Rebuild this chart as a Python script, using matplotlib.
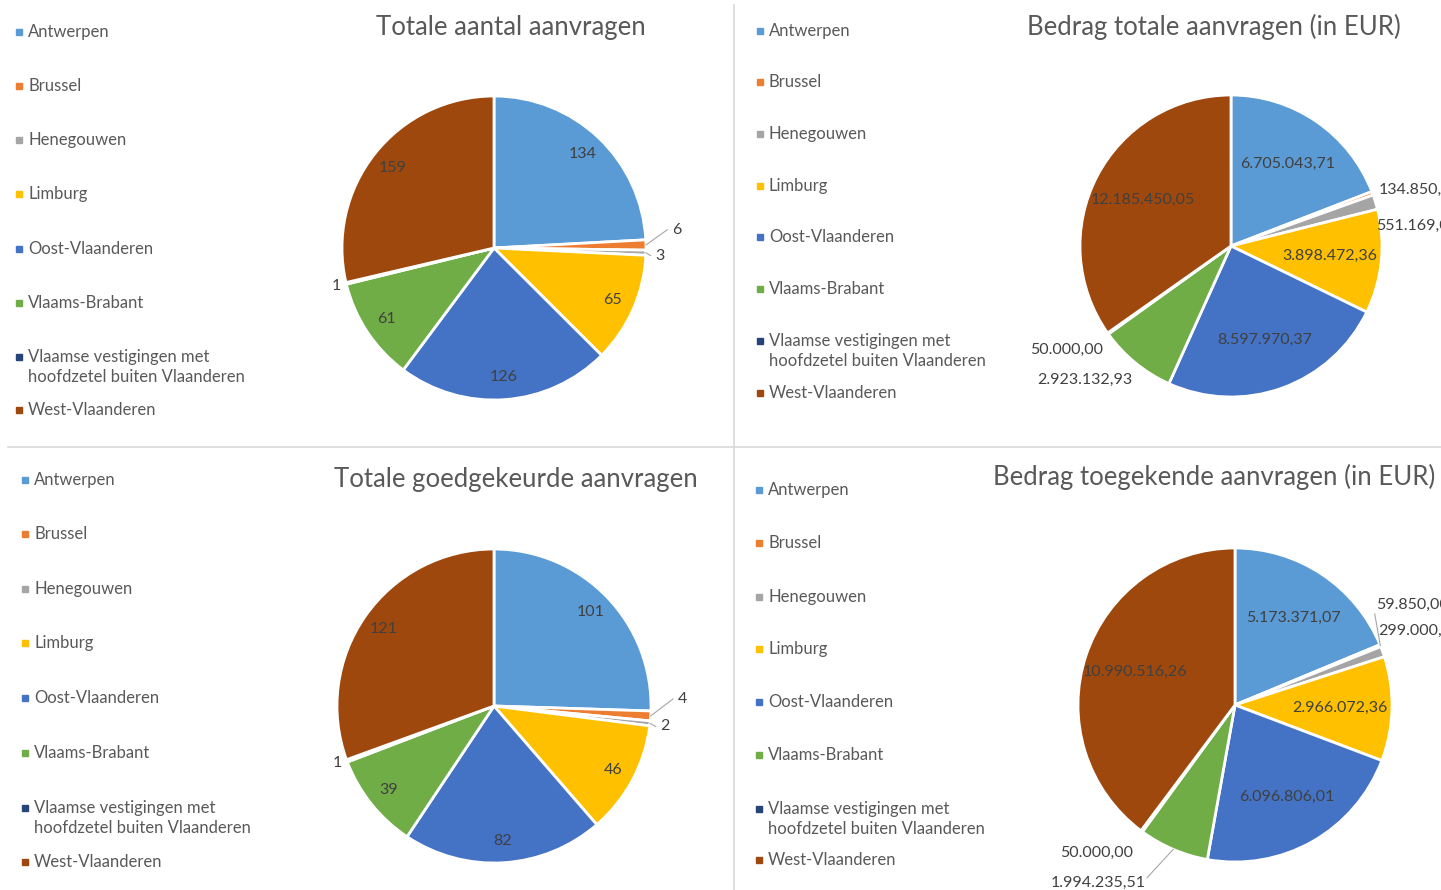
import numpy as np
import matplotlib
matplotlib.use("Agg")
from matplotlib import pyplot as plt
from matplotlib.patches import Rectangle
from matplotlib.lines import Line2D

W, H = 1441, 890

regions = ["Antwerpen", "Brussel", "Henegouwen", "Limburg", "Oost-Vlaanderen",
           "Vlaams-Brabant", "Vlaamse vestigingen met\nhoofdzetel buiten Vlaanderen",
           "West-Vlaanderen"]
colors = ["#5B9BD5", "#ED7D31", "#A5A5A5", "#FFC000", "#4472C4", "#70AD47", "#264478", "#9E480E"]

aantal_totaal = [134, 6, 3, 65, 126, 61, 1, 159]
bedrag_totaal = [6705043.71, 134850.00, 551169.00, 3898472.36, 8597970.37, 2923132.93, 50000.00, 12185450.05]
aantal_goedgekeurd = [101, 4, 2, 46, 82, 39, 1, 121]
bedrag_toegekend = [5173371.07, 59850.00, 299000.00, 2966072.36, 6096806.01, 1994235.51, 50000.00, 10990516.26]

titles = ["Totale aantal aanvragen", "Bedrag totale aanvragen (in EUR)",
          "Totale goedgekeurde aanvragen", "Bedrag toegekende aanvragen (in EUR)"]

plt.rcParams['font.family'] = ['Lato', 'DejaVu Sans']

TXT = "#595959"
LBL = "#404040"


def eur(v):
    s = f"{v:,.2f}"
    return s.replace(",", "#").replace(".", ",").replace("#", ".")


def fx(x):
    return x / W


def fy(y):
    return 1 - y / H


fig = plt.figure(figsize=(W / 100, H / 100), dpi=100)

# separators
fig.add_artist(Line2D([fx(734), fx(734)], [fy(5), fy(890)], color="#d9d9d9", lw=1.2))
fig.add_artist(Line2D([fx(8), fx(1441)], [fy(447), fy(447)], color="#d9d9d9", lw=1.2))

# panel layout: pie centre/radius (px), title pos, legend x and y's, inside label radius,
# outside labels: index -> (x, y, ha, leader end or None) in pie radius units
panels = [
    dict(vals=aantal_totaal, fmt=str, c=(494, 248), r=152, t=(511, 28), lx=19,
         ly=[32, 86, 140, 194, 249, 303, 367, 410], rin=0.85,
         out={1: (1.20, 0.12, 'center', (1.14, 0.12)), 2: (1.09, -0.05, 'center', (1.03, -0.05)),
              6: (-1.04, -0.25, 'center', None)}),
    dict(vals=bedrag_totaal, fmt=eur, c=(1231, 246), r=151, t=(1214, 27), lx=760,
         ly=[31, 82, 134, 186, 237, 289, 351, 393], rin=0.66,
         out={1: (0.975, 0.37, 'left', None), 2: (0.96, 0.13, 'left', None),
              6: (-1.09, -0.69, 'center', None), 5: (-0.97, -0.89, 'center', None)}),
    dict(vals=aantal_goedgekeurd, fmt=str, c=(494, 706), r=157, t=(516, 479), lx=25,
         ly=[480, 534, 589, 643, 698, 753, 818, 862], rin=0.86,
         out={1: (1.20, 0.045, 'center', (1.14, 0.045)), 2: (1.09, -0.13, 'center', (1.03, -0.13)),
              6: (-1.0, -0.36, 'center', None)}),
    dict(vals=bedrag_toegekend, fmt=eur, c=(1235, 705), r=157, t=(1214, 477), lx=759,
         ly=[490, 543, 597, 649, 702, 755, 819, 860], rin=0.67,
         out={1: (0.90, 0.64, 'left', (0.89, 0.58)), 2: (0.91, 0.47, 'left', None),
              6: (-0.88, -0.94, 'center', None), 5: (-0.87, -1.13, 'center', (-0.56, -1.10))}),
]

for p, title in zip(panels, titles):
    cx, cy = p['c']
    r = p['r']
    ax = fig.add_axes([fx(cx - r), fy(cy + r), fx(2 * r), 2 * r / H])
    vals = np.array(p['vals'], dtype=float)
    wedges, _ = ax.pie(vals, colors=colors, startangle=90, counterclock=False, radius=1,
                       wedgeprops=dict(edgecolor="white", linewidth=2))
    ax.set_xlim(-1, 1)
    ax.set_ylim(-1, 1)
    ax.set_aspect('auto')
    ax.axis('off')

    for i, (w, v) in enumerate(zip(wedges, vals)):
        txt = p['fmt'](int(v)) if p['fmt'] is str else p['fmt'](v)
        ang = np.deg2rad((w.theta1 + w.theta2) / 2)
        if i in p['out']:
            tx, ty, ha, lead = p['out'][i]
            ax.text(tx, ty, txt, ha=ha, va='center', fontsize=11.5, color=LBL, clip_on=False)
            if lead is not None:
                ax.plot([np.cos(ang), lead[0]], [np.sin(ang), lead[1]],
                        color="#a6a6a6", lw=0.8, clip_on=False)
        else:
            rr = p['rin']
            ax.text(rr * np.cos(ang), rr * np.sin(ang), txt, ha='center', va='center',
                    fontsize=11.5, color=LBL)

    fig.text(fx(p['t'][0]), fy(p['t'][1]), title, ha='center', va='center',
             fontsize=18.5, color=TXT)

    for name, col, y in zip(regions, colors, p['ly']):
        y0 = y - 10.5 if "\n" in name else y
        fig.add_artist(Rectangle((fx(p['lx'] - 3), fy(y0 + 3)), 6 / W, 6 / H,
                                 color=col, transform=fig.transFigure))
        fig.text(fx(p['lx'] + 9), fy(y), name, ha='left', va='center', fontsize=12,
                 color=TXT, linespacing=1.3)

fig.savefig("out.png", dpi=100, facecolor="white")
